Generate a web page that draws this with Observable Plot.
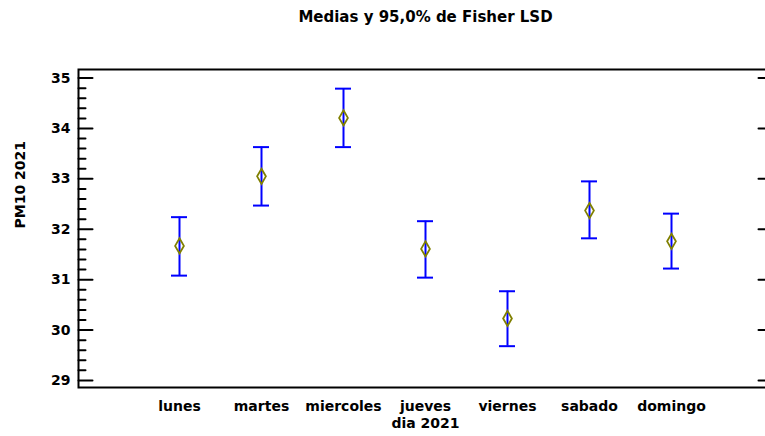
<!DOCTYPE html>
<html><head><meta charset="utf-8">
<script src="https://cdn.jsdelivr.net/npm/d3@7"></script>
<script src="https://cdn.jsdelivr.net/npm/@observablehq/plot@0.6"></script>
<style>html,body{margin:0;padding:0;background:#fff;overflow:hidden}</style>
</head><body><div id="chart"></div>
<script>
const dias = ["lunes","martes","miercoles","jueves","viernes","sabado","domingo"];
const medias = [31.67, 33.05, 34.21, 31.61, 30.23, 32.37, 31.76];
const inferior = [31.08, 32.47, 33.63, 31.04, 29.68, 31.82, 31.22];
const superior = [32.24, 33.63, 34.79, 32.16, 30.77, 32.95, 32.31];
const yTicks = [29, 30, 31, 32, 33, 34, 35];
const yMinorTicks = [29.2,29.4,29.6,29.8,30.2,30.4,30.6,30.8,31.2,31.4,31.6,31.8,32.2,32.4,32.6,32.8,33.2,33.4,33.6,33.8,34.2,34.4,34.6,34.8];
const titulo = "Medias y 95,0% de Fisher LSD";
const etiquetaX = "dia 2021";
const etiquetaY = "PM10 2021";

const data = dias.map((d, i) => ({dia: d, media: medias[i], lo: inferior[i], hi: superior[i]}));

// straight tick shape for vector marks
const tickShape = {draw(context, l) { context.moveTo(0, 0); context.lineTo(0, -l); }};

const chart = Plot.plot({
  width: 765, height: 436,
  marginTop: 69, marginBottom: 49, marginLeft: 78, marginRight: -7,
  style: {fontFamily: "'DejaVu Sans', sans-serif", fontWeight: "bold", fontSize: "14px", color: "black", background: "white", overflow: "hidden"},
  x: {type: "band", domain: dias, paddingInner: 0.805, paddingOuter: 1.134},
  y: {domain: [28.86, 35.17]},
  marks: [
    Plot.frame({stroke: "black", strokeWidth: 2}),
    Plot.vector(yMinorTicks, {y: d => d, frameAnchor: "left", rotate: 90, length: 7, anchor: "start", shape: tickShape, stroke: "black", strokeWidth: 2}),
    Plot.vector(yTicks, {y: d => d, frameAnchor: "left", rotate: 90, length: 14, anchor: "start", shape: tickShape, stroke: "black", strokeWidth: 2}),
    Plot.vector(yTicks, {y: d => d, frameAnchor: "right", rotate: -90, length: 14, anchor: "start", shape: tickShape, stroke: "black", strokeWidth: 2}),
    Plot.axisY(yTicks, {anchor: "left", tickSize: 0, tickPadding: 8, label: null, tickFormat: d => String(d)}),
    Plot.axisX({tickSize: 0, tickPadding: 14, label: null}),
    Plot.ruleX(data, {x: "dia", y1: "lo", y2: "hi", stroke: "#0000ff", strokeWidth: 2}),
    Plot.tickY(data, {x: "dia", y: "hi", stroke: "#0000ff", strokeWidth: 2}),
    Plot.tickY(data, {x: "dia", y: "lo", stroke: "#0000ff", strokeWidth: 2}),
    Plot.dot(data, {x: "dia", y: "media", symbol: "diamond", r: 4.6, stroke: "#808000", strokeWidth: 1.8, fill: "none"}),
    Plot.text([titulo], {frameAnchor: "top", dy: -58, fontSize: 15}),
    Plot.text([etiquetaX], {frameAnchor: "bottom", dy: 40}),
    Plot.text([etiquetaY], {frameAnchor: "left", dx: -57.5, rotate: -90})
  ]
});
document.getElementById("chart").appendChild(chart);
</script>
</body></html>
